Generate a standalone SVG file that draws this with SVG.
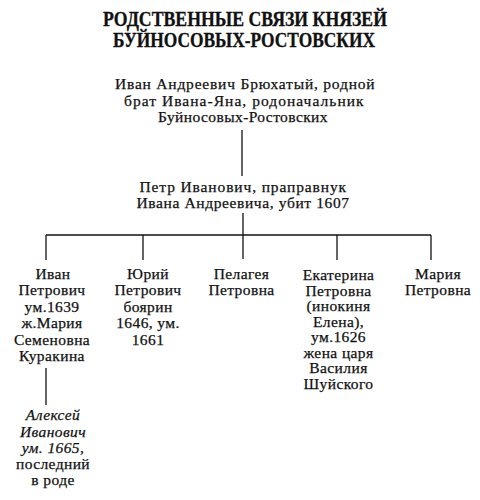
<svg xmlns="http://www.w3.org/2000/svg" width="480" height="500" viewBox="0 0 480 500">
<style>
text{font-family:"Liberation Serif","DejaVu Serif",serif;fill:#111;text-anchor:middle}
.t{font-size:20px;font-weight:bold;stroke:#111;stroke-width:0.3px}
.n{font-size:15.5px;letter-spacing:0.4px;stroke:#111;stroke-width:0.25px}
.i{font-style:italic}
.c line{stroke:#111;stroke-width:1.3}
</style>
<rect width="480" height="500" fill="#fff"/>
<g id="title">
<text class="t" x="245" y="25.5" textLength="284" lengthAdjust="spacingAndGlyphs">РОДСТВЕННЫЕ СВЯЗИ КНЯЗЕЙ</text>
<text class="t" x="244" y="47" textLength="262" lengthAdjust="spacingAndGlyphs">БУЙНОСОВЫХ-РОСТОВСКИХ</text>
</g>
<g class="c" id="connectors">
<line x1="242" y1="130" x2="242" y2="176"/>
<line x1="243" y1="213" x2="243" y2="259"/>
<line x1="46" y1="235" x2="431" y2="235"/>
<line x1="46" y1="235" x2="46" y2="260"/>
<line x1="143" y1="235" x2="143" y2="260"/>
<line x1="337" y1="235" x2="337" y2="260"/>
<line x1="431" y1="235" x2="431" y2="260"/>
<line x1="46" y1="368" x2="46" y2="405"/>
</g>
<g id="ivan-andreevich" class="n">
<text x="245" y="89" textLength="260">Иван Андреевич Брюхатый, родной</text>
<text x="244" y="105.5" textLength="240">брат Ивана-Яна, родоначальник</text>
<text x="243" y="122">Буйносовых-Ростовских</text>
</g>
<g id="petr" class="n">
<text x="243" y="191.5" textLength="207">Петр Иванович, праправнук</text>
<text x="243" y="208" textLength="213">Ивана Андреевича, убит 1607</text>
</g>
<g id="ivan-petrovich" class="n">
<text x="53" y="279">Иван</text>
<text x="52" y="295">Петрович</text>
<text x="52" y="311.5">ум.1639</text>
<text x="52" y="328">ж.Мария</text>
<text x="52" y="344.5">Семеновна</text>
<text x="52" y="361">Куракина</text>
</g>
<g id="yuri" class="n">
<text x="148" y="279">Юрий</text>
<text x="148" y="295">Петрович</text>
<text x="148" y="311.5">боярин</text>
<text x="148" y="328">1646, ум.</text>
<text x="148" y="344.5">1661</text>
</g>
<g id="pelageya" class="n">
<text x="241.5" y="279">Пелагея</text>
<text x="241.5" y="295">Петровна</text>
</g>
<g id="ekaterina" class="n">
<text x="338.5" y="280">Екатерина</text>
<text x="338.5" y="295.5">Петровна</text>
<text x="338.5" y="311">(инокиня</text>
<text x="338.5" y="326.5">Елена),</text>
<text x="338.5" y="342">ум.1626</text>
<text x="338.5" y="357.5">жена царя</text>
<text x="338.5" y="373">Василия</text>
<text x="338.5" y="388.5">Шуйского</text>
</g>
<g id="mariya" class="n">
<text x="438" y="279">Мария</text>
<text x="438" y="295">Петровна</text>
</g>
<g id="aleksei" class="n">
<text class="i" x="53" y="420">Алексей</text>
<text class="i" x="53" y="436.5">Иванович</text>
<text class="i" x="53" y="452.5">ум. 1665,</text>
<text x="53" y="469">последний</text>
<text x="53" y="485">в роде</text>
</g>
</svg>
